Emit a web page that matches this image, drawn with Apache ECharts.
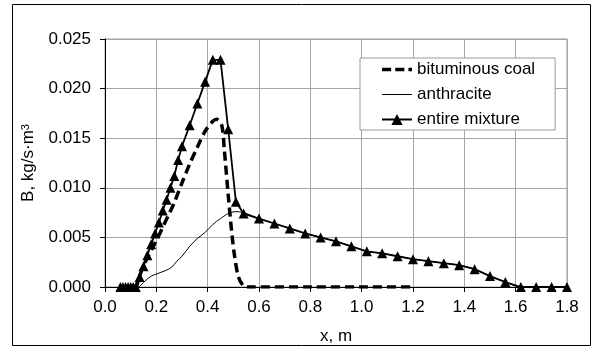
<!DOCTYPE html>
<html>
<head>
<meta charset="utf-8">
<script src="https://cdn.jsdelivr.net/npm/echarts@6/dist/echarts.min.js"></script>
<style>
  html, body { margin: 0; padding: 0; background: #fff; }
  #chart { width: 597px; height: 349px; }
</style>
</head>
<body>
<div id="chart"></div>
<script>
var bitX = [0.06, 0.12, 0.13, 0.15, 0.17, 0.19, 0.21, 0.23, 0.25, 0.27, 0.30, 0.33, 0.36, 0.39, 0.42, 0.435, 0.455, 0.465, 0.48, 0.495, 0.505, 0.52, 0.54, 0.56, 0.8, 1.0, 1.2];
var bitY = [0, 0, 0.0008, 0.0021, 0.0032, 0.0042, 0.0052, 0.0063, 0.0074, 0.0085, 0.0105, 0.0124, 0.0141, 0.0157, 0.0167, 0.0169, 0.0163, 0.0138, 0.0093, 0.0052, 0.0031, 0.0010, 0.0001, 0, 0, 0, 0];

var anthX = [0.06, 0.13, 0.14, 0.16, 0.18, 0.20, 0.22, 0.24, 0.26, 0.28, 0.30, 0.33, 0.36, 0.39, 0.42, 0.45, 0.48, 0.51, 0.54, 0.60, 0.66, 0.72, 0.78, 0.84, 0.90, 0.96, 1.02, 1.08, 1.14, 1.20, 1.26, 1.32, 1.38, 1.44, 1.50, 1.56, 1.62, 1.80];
var anthY = [0, 0, 0.0002, 0.0007, 0.0011, 0.0013, 0.0015, 0.0017, 0.0020, 0.0026, 0.0031, 0.0041, 0.0049, 0.0055, 0.0063, 0.0069, 0.0074, 0.0076, 0.0075, 0.0069, 0.0064, 0.0059, 0.0054, 0.0050, 0.0046, 0.0041, 0.0036, 0.0034, 0.0031, 0.0028, 0.0026, 0.0024, 0.0022, 0.0018, 0.0011, 0.0005, 0, 0];

var mixX = [0.06, 0.07, 0.08, 0.09, 0.10, 0.11, 0.12, 0.135, 0.15, 0.165, 0.18, 0.195, 0.21, 0.225, 0.24, 0.255, 0.27, 0.285, 0.30, 0.33, 0.36, 0.39, 0.42, 0.45, 0.48, 0.51, 0.54, 0.60, 0.66, 0.72, 0.78, 0.84, 0.90, 0.96, 1.02, 1.08, 1.14, 1.20, 1.26, 1.32, 1.38, 1.44, 1.50, 1.56, 1.62, 1.68, 1.74, 1.80];
var mixY = [0, 0, 0, 0, 0, 0, 0, 0.0010, 0.0021, 0.0032, 0.0043, 0.0054, 0.0065, 0.0077, 0.0088, 0.0100, 0.0112, 0.0128, 0.0142, 0.0163, 0.0185, 0.0207, 0.0229, 0.0229, 0.0159, 0.0086, 0.0074, 0.0069, 0.0064, 0.0059, 0.0054, 0.0050, 0.0046, 0.0041, 0.0036, 0.0034, 0.0031, 0.0028, 0.0026, 0.0024, 0.0022, 0.0018, 0.0011, 0.0005, 0, 0, 0, 0];

var xTicks = [0, 1.8, 0.2];
var yTicks = [0, 0.025, 0.005];

function pairs(xs, ys) {
  return xs.map(function (x, i) { return [x, ys[i]]; });
}

var font = 'Liberation Sans, Arial, sans-serif';
var chart = echarts.init(document.getElementById('chart'), null, { renderer: 'canvas' });
chart.setOption({
  animation: false,
  backgroundColor: '#fff',
  textStyle: { fontFamily: font },
  grid: {
    left: 105, right: 30, top: 39, bottom: 62,
    outerBoundsMode: 'none', containLabel: false,
    show: true, borderColor: '#9a9a9a', borderWidth: 1
  },
  legend: {
    orient: 'vertical',
    left: 360,
    top: 58,
    padding: [3, 20, 2, 21],
    itemWidth: 30,
    itemHeight: 14,
    itemGap: 8,
    backgroundColor: '#fff',
    borderColor: '#9a9a9a',
    borderWidth: 1,
    textStyle: { fontSize: 17, color: '#000', fontFamily: font },
    data: [
      { name: 'bituminous coal', icon: 'path://M0,0h9v3.5h-9z M13,0h9v3.5h-9z M26,0h3.5v3.5h-3.5z' },
      { name: 'anthracite', icon: 'path://M0,0h30v1h-30z' },
      { name: 'entire mixture' }
    ]
  },
  xAxis: {
    type: 'value',
    min: xTicks[0],
    max: xTicks[1],
    interval: xTicks[2],
    name: 'x, m',
    nameLocation: 'middle',
    nameGap: 41,
    nameTextStyle: { fontSize: 17, color: '#000', fontFamily: font },
    axisLine: { show: true, onZero: false, lineStyle: { color: '#000', width: 1 } },
    axisTick: { show: true, length: 5, lineStyle: { color: '#000' } },
    axisLabel: { fontSize: 17, color: '#000', margin: 12, formatter: function (v) { return v.toFixed(1); } },
    splitLine: { show: true, lineStyle: { color: '#a6a6a6', width: 1 } }
  },
  yAxis: {
    type: 'value',
    min: yTicks[0],
    max: yTicks[1],
    interval: yTicks[2],
    name: 'B, kg/s·m{sup|3}',
    nameLocation: 'middle',
    nameRotate: 90,
    nameGap: 68,
    nameTextStyle: {
      fontSize: 17, color: '#000', fontFamily: font,
      rich: { sup: { fontSize: 11, verticalAlign: 'top', padding: [0, 0, 6, 0], color: '#000' } }
    },
    axisLine: { show: true, onZero: false, lineStyle: { color: '#000', width: 1 } },
    axisTick: { show: true, length: 5, lineStyle: { color: '#000' } },
    axisLabel: { fontSize: 17, color: '#000', margin: 14, formatter: function (v) { return v.toFixed(3); } },
    splitLine: { show: true, lineStyle: { color: '#a6a6a6', width: 1 } }
  },
  graphic: [{
    type: 'rect',
    shape: { x: 12.5, y: 4.5, width: 578, height: 341 },
    style: { fill: null, stroke: '#000', lineWidth: 1 },
    silent: true
  }],
  series: [
    {
      name: 'bituminous coal',
      type: 'line',
      data: pairs(bitX, bitY),
      symbol: 'none',
      smooth: 0.3,
      lineStyle: { color: '#000', width: 3.5, type: [9, 5] },
      itemStyle: { color: '#000' }
    },
    {
      name: 'anthracite',
      type: 'line',
      data: pairs(anthX, anthY),
      symbol: 'none',
      smooth: 0.3,
      lineStyle: { color: '#000', width: 1 },
      itemStyle: { color: '#000' }
    },
    {
      name: 'entire mixture',
      type: 'line',
      data: pairs(mixX, mixY),
      symbol: 'triangle',
      symbolSize: 10,
      showAllSymbol: true,
      lineStyle: { color: '#000', width: 1.8 },
      itemStyle: { color: '#000' }
    }
  ]
});
</script>
</body>
</html>
